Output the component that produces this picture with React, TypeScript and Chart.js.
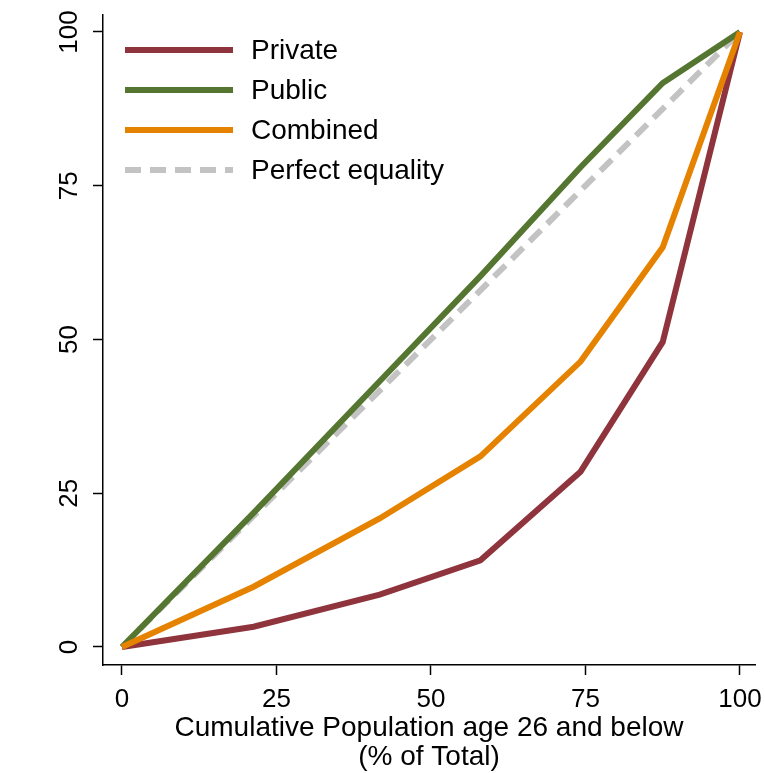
import { useEffect, useRef } from "react";
import { Chart, registerables } from "chart.js";

Chart.register(...registerables);

// Cumulative population share (x) at each point
const popShare = [0, 21.3, 41.7, 58.0, 74.2, 87.5, 100];
// Cumulative shares (y)
const privateShare = [0, 3.3, 8.5, 14.1, 28.5, 49.6, 100];
const publicShare = [0, 21.8, 43.2, 60.3, 78.0, 91.7, 100];
const combinedShare = [0, 9.8, 20.9, 31.0, 46.4, 65.0, 100];
const equalityShare = [0, 21.3, 41.7, 58.0, 74.2, 87.5, 100];

const seriesLabels = ["Private", "Public", "Combined", "Perfect equality"];
const xTickValues = [0, 25, 50, 75, 100];
const yTickValues = [0, 25, 50, 75, 100];
const xTitle = ["Cumulative Population age 26 and below", "(% of Total)"];

const FONT = '"Liberation Sans", Arial, Helvetica, sans-serif';

const toPoints = (ys: number[]) => ys.map((y, i) => ({ x: popShare[i], y }));

const insideLegend = {
  id: "insideLegend",
  afterDraw(chart: any) {
    const { ctx, chartArea } = chart;
    const x0 = chartArea.left + 22;
    const x1 = chartArea.left + 130;
    const tx = chartArea.left + 148;
    let y = chartArea.top + 35;
    chart.data.datasets.forEach((ds: any) => {
      ctx.save();
      ctx.strokeStyle = ds.borderColor;
      ctx.lineWidth = 6;
      ctx.lineCap = "butt";
      ctx.setLineDash(ds.borderDash || []);
      ctx.beginPath();
      ctx.moveTo(x0, y);
      ctx.lineTo(x1, y);
      ctx.stroke();
      ctx.setLineDash([]);
      ctx.fillStyle = "#000";
      ctx.font = `28px ${FONT}`;
      ctx.textBaseline = "middle";
      ctx.textAlign = "left";
      ctx.fillText(ds.label, tx, y + 1);
      ctx.restore();
      y += 40;
    });
  },
};

export default function App() {
  const ref = useRef<HTMLCanvasElement | null>(null);

  useEffect(() => {
    document.body.style.margin = "0";
    const canvas = ref.current;
    if (!canvas) return;
    const common = {
      pointRadius: 0,
      borderWidth: 6,
      tension: 0,
      fill: false,
      borderCapStyle: "butt",
      borderJoinStyle: "miter",
    };
    const chart = new Chart(canvas, {
      type: "line",
      data: {
        datasets: [
          { ...common, label: seriesLabels[0], data: toPoints(privateShare), borderColor: "#8f343c", backgroundColor: "#8f343c", order: 2 },
          { ...common, label: seriesLabels[1], data: toPoints(publicShare), borderColor: "#557630", backgroundColor: "#557630", order: 1 },
          { ...common, label: seriesLabels[2], data: toPoints(combinedShare), borderColor: "#e58200", backgroundColor: "#e58200", order: 0 },
          { ...common, label: seriesLabels[3], data: toPoints(equalityShare), borderColor: "#c3c3c3", backgroundColor: "#c3c3c3", borderDash: [16, 9], order: 3 },
        ] as any,
      },
      options: {
        animation: false,
        responsive: false,
        devicePixelRatio: 1,
        layout: { padding: { top: 15, right: 10, left: 0, bottom: 0 } },
        plugins: { legend: { display: false }, tooltip: { enabled: false } },
        scales: {
          x: {
            type: "linear",
            min: -3.07,
            max: 102.43,
            afterBuildTicks: (s: any) => {
              s.ticks = xTickValues.map((v) => ({ value: v }));
            },
            afterFit: (s: any) => {
              s.height = 108;
              s.paddingLeft = 0;
              s.paddingRight = 0;
            },
            grid: { drawOnChartArea: false, drawTicks: true, tickLength: 10, tickColor: "#000", tickWidth: 1.5 },
            border: { display: true, color: "#000", width: 1.5 },
            ticks: {
              color: "#000",
              font: { family: FONT, size: 26 },
              padding: 9,
              maxRotation: 0,
              autoSkip: false,
            },
            title: {
              display: true,
              text: xTitle,
              color: "#000",
              font: { family: FONT, size: 28, lineHeight: 29 / 28 },
              padding: { top: 0, bottom: 1 },
            },
          },
          y: {
            type: "linear",
            min: -2.93,
            max: 102.76,
            afterBuildTicks: (s: any) => {
              s.ticks = yTickValues.map((v) => ({ value: v }));
            },
            afterFit: (s: any) => {
              s.width = 103;
              s.paddingTop = 0;
              s.paddingBottom = 0;
            },
            grid: { drawOnChartArea: false, drawTicks: true, tickLength: 10, tickColor: "#000", tickWidth: 1.5 },
            border: { display: true, color: "#000", width: 1.5 },
            ticks: {
              color: "#000",
              font: { family: FONT, size: 26 },
              padding: 1,
              minRotation: 90,
              maxRotation: 90,
              crossAlign: "center",
              autoSkip: false,
            },
          },
        },
      } as any,
      plugins: [insideLegend],
    });
    return () => chart.destroy();
  }, []);

  return (
    <div style={{ width: 765, height: 773 }}>
      <canvas ref={ref} width={765} height={773} style={{ display: "block" }} />
    </div>
  );
}
